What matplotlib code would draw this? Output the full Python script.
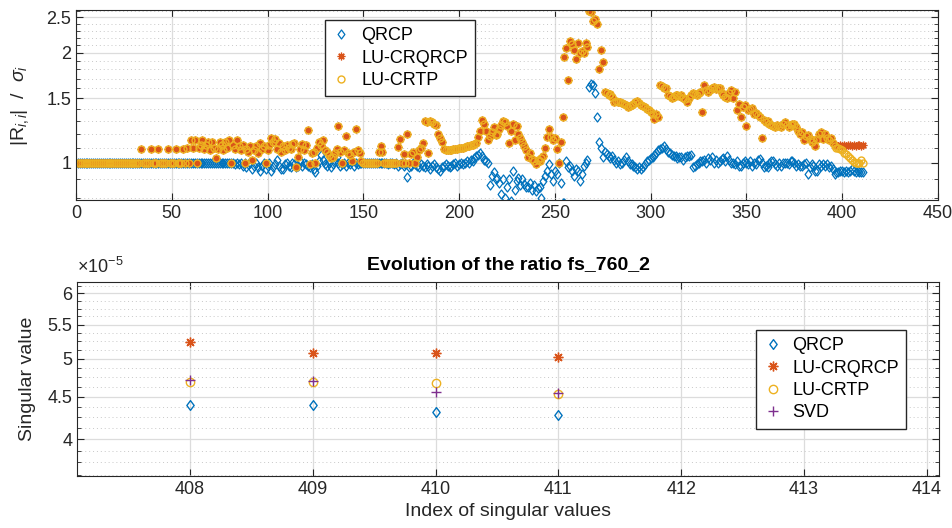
import numpy as np
import matplotlib
matplotlib.use('Agg')
import matplotlib.pyplot as plt
from matplotlib.path import Path
from matplotlib.ticker import FixedLocator, FixedFormatter, NullFormatter

plt.rcParams['font.family'] = ['Liberation Sans', 'DejaVu Sans']
plt.rcParams['mathtext.fontset'] = 'custom'
plt.rcParams['mathtext.rm'] = 'Liberation Sans'
plt.rcParams['mathtext.it'] = 'Liberation Sans:italic'

# |R_ii| / sigma_i pour chaque methode (indices 1..411)
qrcp = [
    1.00, 1.00, 1.00, 1.00, 1.00, 1.00, 1.00, 1.00, 1.00, 1.00,
    1.00, 1.00, 1.00, 1.00, 1.00, 1.00, 1.00, 1.00, 1.00, 1.00,
    1.00, 1.00, 1.00, 1.00, 1.00, 1.00, 1.00, 1.00, 1.00, 1.00,
    1.00, 1.00, 1.00, 1.00, 1.00, 1.00, 1.00, 1.00, 1.00, 1.00,
    1.00, 1.00, 1.00, 1.00, 1.00, 1.00, 1.00, 1.00, 1.00, 1.00,
    1.00, 1.00, 1.00, 1.00, 1.00, 1.00, 1.00, 1.00, 1.00, 1.00,
    1.00, 1.00, 1.00, 1.00, 1.00, 1.00, 1.00, 1.00, 1.00, 1.00,
    1.00, 1.00, 1.00, 1.00, 1.00, 1.00, 1.00, 1.00, 1.00, 1.00,
    1.00, 1.00, 0.99, 1.00, 0.99, 1.00, 0.98, 1.00, 0.97, 0.99,
    1.00, 0.96, 0.98, 1.00, 0.97, 0.95, 0.98, 1.00, 0.96, 0.98,
    1.00, 0.95, 0.97, 0.99, 1.02, 0.98, 0.96, 0.96, 0.99, 1.00,
    0.98, 0.97, 1.00, 0.99, 0.97, 0.98, 1.01, 0.98, 1.00, 0.99,
    0.98, 0.97, 0.99, 0.96, 0.94, 0.98, 1.01, 1.05, 1.02, 0.99,
    0.98, 1.00, 0.97, 0.99, 1.01, 1.035, 1.00, 0.98, 0.99, 1.00,
    0.98, 1.00, 0.99, 1.01, 0.98, 1.00, 0.99, 1.00, 1.00, 1.00,
    1.00, 1.00, 0.995, 1.00, 1.00, 1.00, 0.995, 1.00, 1.00, 1.00,
    1.00, 1.00, 0.99, 1.00, 1.00, 0.99, 1.00, 0.98, 0.99, 1.00,
    0.98, 0.99, 0.915, 0.97, 0.98, 1.00, 0.99, 0.98, 0.97, 0.99,
    0.98, 0.97, 0.99, 0.98, 0.96, 0.98, 0.99, 0.97, 0.96, 0.95,
    0.97, 0.98, 0.99, 0.98, 0.97, 0.98, 0.99, 1.00, 0.98, 0.99,
    1.00, 0.99, 1.00, 1.01, 1.00, 1.02, 1.01, 1.03, 1.04, 1.05,
    1.06, 1.04, 1.02, 1.01, 1.00, 0.87, 0.92, 0.94, 0.90, 0.91,
    0.88, 0.82, 0.90, 0.80, 0.86, 0.90, 0.785, 0.95, 0.84, 0.89,
    0.91, 0.87, 0.90, 0.873, 0.86, 0.855, 0.88, 0.84, 0.87, 0.837,
    0.85, 0.855, 0.80, 0.89, 0.92, 0.95, 0.99, 0.93, 0.89, 0.95,
    0.93, 1.00, 0.877, 0.777, 0.777, 1.013, 0.97, 0.98, 0.95, 0.92,
    0.96, 0.95, 0.89, 0.93, 0.98, 1.00, 1.017, 1.61, 1.64, 1.63,
    1.55, 1.33, 1.14, 1.10, 1.035, 1.07, 1.057, 1.045, 1.03, 1.04,
    1.02, 1.00, 1.01, 0.99, 1.00, 1.02, 1.035, 1.01, 0.99, 0.99,
    0.98, 0.97, 0.96, 0.97, 0.96, 0.97, 0.99, 1.013, 1.02, 1.03,
    1.035, 1.05, 1.06, 1.08, 1.09, 1.10, 1.11, 1.09, 1.067, 1.06,
    1.05, 1.045, 1.04, 1.03, 1.035, 1.035, 1.02, 1.035, 1.04, 1.045,
    1.05, 0.97, 0.98, 0.99, 1.00, 1.01, 1.013, 1.02, 1.00, 1.03,
    1.02, 1.035, 1.00, 1.02, 1.00, 1.01, 1.024, 1.03, 1.01, 1.045,
    1.02, 1.00, 1.00, 0.99, 1.01, 0.98, 0.98, 1.00, 1.013, 1.00,
    0.99, 1.01, 0.98, 1.00, 0.99, 1.02, 1.024, 1.00, 0.97, 0.98,
    0.97, 1.00, 1.01, 1.013, 0.99, 0.98, 1.00, 0.98, 1.00, 1.00,
    1.00, 0.99, 1.01, 1.013, 1.00, 0.98, 0.99, 0.98, 0.98, 0.99,
    1.00, 0.93, 0.97, 0.99, 0.98, 0.95, 0.95, 0.99, 0.98, 0.99,
    0.98, 0.99, 0.97, 0.98, 0.96, 0.93, 0.94, 0.94, 0.95, 0.95,
    0.94, 0.95, 0.94, 0.95, 0.96, 0.95, 0.94, 0.95, 0.945, 0.94,
    0.945,
]

lu_crqrcp = [
    1.00, 1.00, 1.00, 1.00, 1.00, 1.00, 1.00, 1.00, 1.00, 1.00,
    1.00, 1.00, 1.00, 1.00, 1.00, 1.00, 1.00, 1.00, 1.00, 1.00,
    1.00, 1.00, 1.00, 1.00, 1.00, 1.00, 1.00, 1.00, 1.00, 1.00,
    1.00, 1.00, 1.00, 1.09, 1.00, 1.00, 1.00, 1.00, 1.09, 1.00,
    1.00, 1.00, 1.09, 1.00, 1.00, 1.00, 1.00, 1.09, 1.00, 1.00,
    1.00, 1.09, 1.00, 1.00, 1.00, 1.09, 1.00, 1.10, 1.00, 1.15,
    1.10, 1.15, 1.00, 1.10, 1.12, 1.155, 1.09, 1.12, 1.14, 1.08,
    1.14, 1.10, 1.03, 1.09, 1.14, 1.12, 1.08, 1.14, 1.10, 1.15,
    1.00, 1.12, 1.09, 1.15, 1.11, 1.08, 1.12, 1.00, 1.09, 1.07,
    1.11, 1.02, 1.08, 1.11, 1.06, 1.13, 1.09, 1.11, 1.00, 1.08,
    1.12, 1.17, 1.14, 1.16, 1.09, 1.13, 1.07, 1.11, 1.08, 1.12,
    1.10, 1.09, 1.125, 1.13, 0.97, 1.035, 1.09, 1.125, 1.08, 1.12,
    1.23, 0.99, 1.06, 1.07, 1.00, 1.10, 1.14, 1.12, 1.15, 1.08,
    1.07, 1.05, 1.03, 1.035, 1.06, 1.09, 1.26, 1.07, 1.00, 1.08,
    1.18, 1.06, 1.05, 1.01, 1.07, 1.24, 1.085, 1.06, 1.01, 1.00,
    1.00, 1.00, 1.00, 1.00, 1.00, 1.00, 1.00, 1.07, 1.11, 1.07,
    1.00, 1.00, 1.00, 1.00, 1.00, 1.00, 1.00, 1.105, 1.16, 1.00,
    1.057, 1.00, 1.20, 1.00, 1.057, 1.07, 1.00, 1.035, 1.08, 1.10,
    1.13, 1.30, 1.29, 1.06, 1.30, 1.29, 1.28, 1.27, 1.20, 1.17,
    1.14, 1.09, 1.08, 1.08, 1.08, 1.085, 1.09, 1.09, 1.09, 1.095,
    1.10, 1.10, 1.105, 1.11, 1.11, 1.115, 1.12, 1.125, 1.13, 1.175,
    1.22, 1.31, 1.28, 1.22, 1.15, 1.18, 1.21, 1.25, 1.19, 1.20,
    1.24, 1.27, 1.30, 1.29, 1.26, 1.13, 1.22, 1.28, 1.15, 1.26,
    1.20, 1.17, 1.14, 1.11, 1.085, 1.035, 1.06, 1.024, 1.01, 0.99,
    1.02, 1.01, 1.03, 1.045, 1.10, 1.175, 1.24, 1.175, 1.15, 1.17,
    1.09, 1.00, 1.14, 1.33, 1.95, 2.06, 1.68, 2.16, 2.12, 2.04,
    1.92, 2.13, 2.00, 2.02, 2.00, 2.13, 2.08, 2.61, 2.58, 2.45,
    2.48, 2.40, 1.81, 2.04, 1.89, 1.56, 1.55, 1.53, 1.54, 1.51,
    1.47, 1.48, 1.47, 1.47, 1.46, 1.45, 1.44, 1.42, 1.43, 1.44,
    1.45, 1.47, 1.48, 1.46, 1.44, 1.43, 1.42, 1.40, 1.39, 1.38,
    1.36, 1.32, 1.36, 1.33, 1.63, 1.62, 1.60, 1.60, 1.53, 1.52,
    1.50, 1.51, 1.53, 1.53, 1.52, 1.53, 1.50, 1.49, 1.47, 1.50,
    1.53, 1.55, 1.54, 1.53, 1.55, 1.56, 1.38, 1.63, 1.58, 1.56,
    1.58, 1.60, 1.61, 1.59, 1.60, 1.60, 1.55, 1.53, 1.51, 1.50,
    1.55, 1.58, 1.50, 1.56, 1.39, 1.45, 1.33, 1.42, 1.44, 1.26,
    1.39, 1.40, 1.41, 1.36, 1.37, 1.35, 1.33, 1.17, 1.31, 1.29,
    1.30, 1.28, 1.27, 1.26, 1.25, 1.27, 1.26, 1.25, 1.28, 1.29,
    1.27, 1.25, 1.27, 1.28, 1.28, 1.25, 1.22, 1.20, 1.21, 1.15,
    1.18, 1.19, 1.16, 1.14, 1.15, 1.11, 1.16, 1.20, 1.21, 1.16,
    1.20, 1.17, 1.15, 1.17, 1.13, 1.12, 1.12, 1.11, 1.12, 1.11,
    1.12, 1.11, 1.115, 1.12, 1.11, 1.12, 1.11, 1.115, 1.12, 1.11,
    1.115,
]

# LU-CRTP identique a LU-CRQRCP jusqu'a l'indice 395, puis differe
lu_crtp_tail = [1.11, 1.10, 1.10, 1.09, 1.08, 1.065, 1.055, 1.045,
                1.03, 1.02, 1.005, 1.00, 0.995, 1.00, 1.015, 0.995]
lu_crtp = lu_crqrcp[:395] + lu_crtp_tail

# valeurs singulieres (derniers indices)
sv_index = [408, 409, 410, 411]
sv_qrcp = [4.40e-5, 4.40e-5, 4.31e-5, 4.28e-5]
sv_crqrcp = [5.24e-5, 5.08e-5, 5.08e-5, 5.03e-5]
sv_crtp = [4.69e-5, 4.69e-5, 4.67e-5, 4.53e-5]
sv_svd = [4.71e-5, 4.70e-5, 4.56e-5, 4.55e-5]

c_qrcp = '#0072BD'
c_crq = '#D95319'
c_crtp = '#EDB120'
c_svd = '#7E2F8E'
dark = '#262626'

# marqueurs facon matlab
diamond = Path([(0, 1), (0.75, 0), (0, -1), (-0.75, 0), (0, 1)],
               [Path.MOVETO, Path.LINETO, Path.LINETO, Path.LINETO, Path.CLOSEPOLY])
asterisk = (8, 2, 0)

fig = plt.figure(figsize=(9.52, 5.28), dpi=100)
ax1 = fig.add_axes([76 / 952, 1 - 200 / 528, 862 / 952, 190 / 528])
ax2 = fig.add_axes([77 / 952, 1 - 476 / 528, 862 / 952, 194 / 528])


def style(ax):
    ax.tick_params(which='both', direction='in', top=True, right=True,
                   colors=dark, labelsize=13)
    ax.tick_params(which='major', length=5, width=0.8)
    ax.tick_params(which='minor', length=3, width=0.6)
    for s in ax.spines.values():
        s.set_color(dark)
        s.set_linewidth(0.8)
    ax.grid(True, which='major', color='#dcdcdc', linewidth=0.9)
    ax.grid(True, which='minor', axis='y', color='#c8c8c8',
            linestyle=(0, (1, 3)), linewidth=0.7)
    ax.set_axisbelow(True)


leg_kw = dict(fontsize=13, frameon=True, fancybox=False, edgecolor=dark,
              framealpha=1, handlelength=1.0, handletextpad=0.6,
              borderpad=0.4, labelspacing=0.3, borderaxespad=0)

# --- graphe du haut ---
idx = np.arange(1, len(qrcp) + 1)
ax1.plot(idx, qrcp, marker=diamond, ls='none', mfc='none', mec=c_qrcp, ms=6.5, mew=0.9, label='QRCP')
ax1.plot(idx, lu_crqrcp, marker=asterisk, ls='none', color=c_crq, ms=5.5, mew=0.9, label='LU-CRQRCP')
ax1.plot(idx, lu_crtp, 'o', ls='none', mfc='none', mec=c_crtp, ms=5, mew=1.0, label='LU-CRTP')
ax1.set_yscale('log')
ax1.set_xlim(0, 450)
ax1.set_ylim(0.79, 2.62)
ax1.set_xticks(np.arange(0, 451, 50))
ax1.yaxis.set_major_locator(FixedLocator([1, 1.5, 2, 2.5]))
ax1.yaxis.set_major_formatter(FixedFormatter(['1', '1.5', '2', '2.5']))
ax1.yaxis.set_minor_locator(FixedLocator([0.8, 0.9, 1.1, 1.2, 1.3, 1.4, 1.6, 1.7, 1.8,
                                          1.9, 2.1, 2.2, 2.3, 2.4, 2.6]))
ax1.yaxis.set_minor_formatter(NullFormatter())
style(ax1)
ax1.set_ylabel(r'|R$_{i,i}$|  /  $\sigma_i$', fontsize=14, color=dark)
ax1.yaxis.set_label_coords(-0.052, 0.5)
ax1.legend(loc='upper left', bbox_to_anchor=(0.289, 0.947), **leg_kw)

# --- graphe du bas ---
ax2.plot(sv_index, sv_qrcp, marker=diamond, ls='none', mfc='none', mec=c_qrcp, ms=7, mew=1.0, label='QRCP')
ax2.plot(sv_index, sv_crqrcp, marker=asterisk, ls='none', color=c_crq, ms=7, mew=1.0, label='LU-CRQRCP')
ax2.plot(sv_index, sv_crtp, 'o', ls='none', mfc='none', mec=c_crtp, ms=6, mew=1.0, label='LU-CRTP')
ax2.plot(sv_index, sv_svd, '+', ls='none', color=c_svd, ms=7, mew=1.0, label='SVD')
ax2.set_yscale('log')
ax2.set_xlim(407.08, 414.1)
ax2.set_ylim(3.61e-5, 6.19e-5)
ax2.set_xticks(range(408, 415))
maj = [4.0, 4.5, 5.0, 5.5, 6.0]
ax2.yaxis.set_major_locator(FixedLocator([v * 1e-5 for v in maj]))
ax2.yaxis.set_major_formatter(FixedFormatter(['4', '4.5', '5', '5.5', '6']))
mino = [3.625, 3.75, 3.875, 4.125, 4.25, 4.375, 4.625, 4.75, 4.875, 5.125, 5.25,
        5.375, 5.625, 5.75, 5.875, 6.125]
ax2.yaxis.set_minor_locator(FixedLocator([v * 1e-5 for v in mino]))
ax2.yaxis.set_minor_formatter(NullFormatter())
style(ax2)
ax2.set_title('Evolution of the ratio fs_760_2', fontsize=14, fontweight='bold',
              color='black', pad=9)
ax2.set_xlabel('Index of singular values', fontsize=14, color=dark)
ax2.set_ylabel('Singular value', fontsize=14, color=dark)
ax2.yaxis.set_label_coords(-0.048, 0.5)
ax2.text(0.0, 1.025, r'$\times$10$^{-5}$', transform=ax2.transAxes, fontsize=13,
         color=dark, ha='left', va='bottom')
ax2.legend(loc='upper left', bbox_to_anchor=(0.788, 0.753), **leg_kw)

fig.savefig('out.png', dpi=100)
